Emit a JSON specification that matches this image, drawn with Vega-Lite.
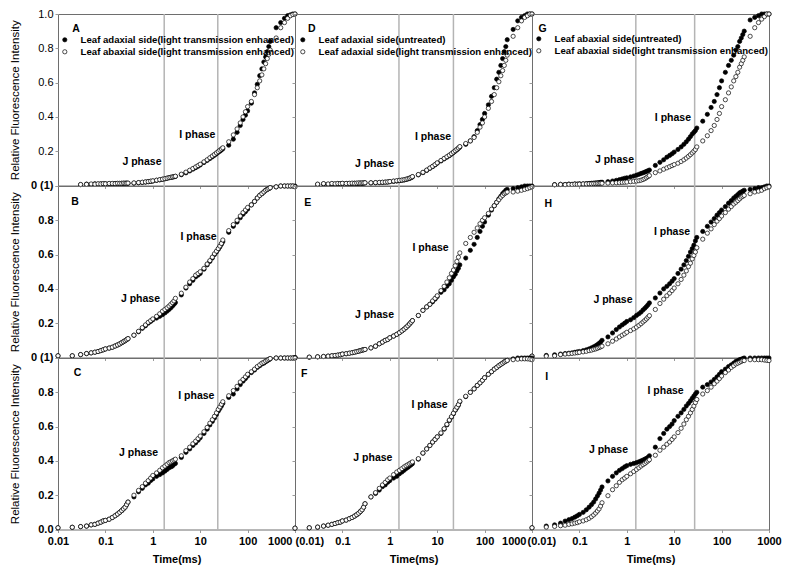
{
"$schema": "https://vega.github.io/schema/vega-lite/v6.json",
"padding": {"left": 8, "top": 7, "right": 5, "bottom": 5},
"config": {
 "font": "Liberation Sans",
 "view": {"stroke": "#6e6e6e", "strokeWidth": 1},
 "axis": {"grid": false, "domain": false, "ticks": true, "tickColor": "#9a9a9a", "tickSize": 3, "tickCount": 12, "labelOverlap": false, "labelColor": "#000", "titleColor": "#000", "labelFont": "Liberation Sans", "titleFont": "Liberation Sans"}
},
"datasets": {
"lines": [{"c":1,"t":1.74},{"c":1,"t":23.5},{"c":2,"t":1.56},{"c":2,"t":22},{"c":3,"t":1.55},{"c":3,"t":27}],
"notes": [
{"p":"A","label":"A","t":0.024,"y":0.915},{"p":"A","label":"J phase","t":0.59,"y":0.136},{"p":"A","label":"I phase","t":8.7,"y":0.293},
{"p":"B","label":"B","t":0.023,"y":0.908},{"p":"B","label":"J phase","t":0.55,"y":0.342},{"p":"B","label":"I phase","t":9.25,"y":0.704},
{"p":"C","label":"C","t":0.026,"y":0.914},{"p":"C","label":"J phase","t":0.5,"y":0.447},{"p":"C","label":"I phase","t":8.3,"y":0.776},
{"p":"D","label":"D","t":0.0226,"y":0.914},{"p":"D","label":"J phase","t":0.475,"y":0.128},{"p":"D","label":"I phase","t":8.15,"y":0.282},
{"p":"E","label":"E","t":0.0186,"y":0.902},{"p":"E","label":"J phase","t":0.475,"y":0.25},{"p":"E","label":"I phase","t":7.26,"y":0.64},
{"p":"F","label":"F","t":0.0157,"y":0.904},{"p":"F","label":"J phase","t":0.44,"y":0.418},{"p":"F","label":"I phase","t":6.9,"y":0.727},
{"p":"G","label":"G","t":0.0168,"y":0.915},{"p":"G","label":"J phase","t":0.55,"y":0.148},{"p":"G","label":"I phase","t":9.4,"y":0.395},
{"p":"H","label":"H","t":0.022,"y":0.896},{"p":"H","label":"J phase","t":0.51,"y":0.334},{"p":"H","label":"I phase","t":8.98,"y":0.73},
{"p":"I","label":"I","t":0.0204,"y":0.888},{"p":"I","label":"J phase","t":0.41,"y":0.466},{"p":"I","label":"I phase","t":6.58,"y":0.81}
],
"curves": [
{"p":"A","t":0.03,"f":0.005,"o":0.006},{"p":"A","t":0.04,"f":0.008,"o":0.007},{"p":"A","t":0.05,"f":0.006,"o":0.009},{"p":"A","t":0.06,"f":0.01,"o":0.008},{"p":"A","t":0.07,"f":0.008,"o":0.01},{"p":"A","t":0.08,"f":0.01,"o":0.009},{"p":"A","t":0.09,"f":0.009,"o":0.011},{"p":"A","t":0.1,"f":0.01,"o":0.01},
{"p":"A","t":0.12,"f":0.011,"o":0.012},{"p":"A","t":0.14,"f":0.01,"o":0.012},{"p":"A","t":0.16,"f":0.012,"o":0.011},{"p":"A","t":0.18,"f":0.011,"o":0.013},{"p":"A","t":0.2,"f":0.012,"o":0.012},{"p":"A","t":0.22,"f":0.013,"o":0.012},{"p":"A","t":0.24,"f":0.012,"o":0.014},{"p":"A","t":0.26,"f":0.013,"o":0.013},{"p":"A","t":0.28,"f":0.014,"o":0.013},{"p":"A","t":0.3,"f":0.013,"o":0.014},
{"p":"A","t":0.4,"f":0.014,"o":0.015},{"p":"A","t":0.5,"f":0.016,"o":0.017},{"p":"A","t":0.6,"f":0.018,"o":0.019},{"p":"A","t":0.7,"f":0.02,"o":0.021},{"p":"A","t":0.8,"f":0.022,"o":0.023},{"p":"A","t":0.9,"f":0.024,"o":0.025},{"p":"A","t":1,"f":0.026,"o":0.027},
{"p":"A","t":1.2,"f":0.03,"o":0.031},{"p":"A","t":1.4,"f":0.033,"o":0.034},{"p":"A","t":1.6,"f":0.036,"o":0.037},{"p":"A","t":1.8,"f":0.039,"o":0.04},{"p":"A","t":2,"f":0.042,"o":0.043},{"p":"A","t":2.2,"f":0.045,"o":0.046},{"p":"A","t":2.4,"f":0.047,"o":0.048},{"p":"A","t":2.6,"f":0.049,"o":0.05},{"p":"A","t":2.8,"f":0.051,"o":0.052},{"p":"A","t":3,"f":0.053,"o":0.054},
{"p":"A","t":4,"f":0.063,"o":0.066},{"p":"A","t":5,"f":0.074,"o":0.078},{"p":"A","t":6,"f":0.085,"o":0.089},{"p":"A","t":7,"f":0.095,"o":0.099},{"p":"A","t":8,"f":0.104,"o":0.108},{"p":"A","t":9,"f":0.112,"o":0.116},{"p":"A","t":10,"f":0.12,"o":0.124},
{"p":"A","t":12,"f":0.134,"o":0.138},{"p":"A","t":14,"f":0.146,"o":0.15},{"p":"A","t":16,"f":0.157,"o":0.162},{"p":"A","t":18,"f":0.167,"o":0.172},{"p":"A","t":20,"f":0.176,"o":0.181},{"p":"A","t":22,"f":0.185,"o":0.19},{"p":"A","t":24,"f":0.193,"o":0.198},{"p":"A","t":26,"f":0.2,"o":0.206},{"p":"A","t":28,"f":0.207,"o":0.213},{"p":"A","t":30,"f":0.214,"o":0.22},
{"p":"A","t":40,"f":0.235,"o":0.255},{"p":"A","t":50,"f":0.27,"o":0.295},{"p":"A","t":60,"f":0.31,"o":0.33},{"p":"A","t":70,"f":0.35,"o":0.365},{"p":"A","t":80,"f":0.385,"o":0.4},{"p":"A","t":90,"f":0.41,"o":0.43},{"p":"A","t":100,"f":0.435,"o":0.46},
{"p":"A","t":120,"f":0.48,"o":0.49},{"p":"A","t":140,"f":0.54,"o":0.53},{"p":"A","t":160,"f":0.59,"o":0.57},{"p":"A","t":180,"f":0.64,"o":0.61},{"p":"A","t":200,"f":0.68,"o":0.645},{"p":"A","t":220,"f":0.72,"o":0.68},{"p":"A","t":240,"f":0.75,"o":0.71},{"p":"A","t":260,"f":0.78,"o":0.74},{"p":"A","t":280,"f":0.81,"o":0.765},{"p":"A","t":300,"f":0.84,"o":0.79},
{"p":"A","t":400,"f":0.92,"o":0.86},{"p":"A","t":500,"f":0.95,"o":0.92},{"p":"A","t":600,"f":0.975,"o":0.95},{"p":"A","t":700,"f":0.99,"o":0.975},{"p":"A","t":800,"f":0.995,"o":0.99},{"p":"A","t":900,"f":1,"o":0.997},{"p":"A","t":1000,"f":1,"o":1},

{"p":"D","t":0.03,"f":0.006,"o":0.008},{"p":"D","t":0.04,"f":0.009,"o":0.011},{"p":"D","t":0.05,"f":0.007,"o":0.009},{"p":"D","t":0.06,"f":0.01,"o":0.012},{"p":"D","t":0.07,"f":0.008,"o":0.01},{"p":"D","t":0.08,"f":0.011,"o":0.012},{"p":"D","t":0.09,"f":0.01,"o":0.011},{"p":"D","t":0.1,"f":0.011,"o":0.013},
{"p":"D","t":0.12,"f":0.012,"o":0.012},{"p":"D","t":0.14,"f":0.011,"o":0.013},{"p":"D","t":0.16,"f":0.012,"o":0.014},{"p":"D","t":0.18,"f":0.013,"o":0.013},{"p":"D","t":0.2,"f":0.012,"o":0.014},{"p":"D","t":0.22,"f":0.013,"o":0.015},{"p":"D","t":0.24,"f":0.014,"o":0.014},{"p":"D","t":0.26,"f":0.013,"o":0.015},{"p":"D","t":0.28,"f":0.014,"o":0.015},{"p":"D","t":0.3,"f":0.015,"o":0.016},
{"p":"D","t":0.4,"f":0.015,"o":0.016},{"p":"D","t":0.5,"f":0.016,"o":0.017},{"p":"D","t":0.6,"f":0.017,"o":0.018},{"p":"D","t":0.7,"f":0.018,"o":0.019},{"p":"D","t":0.8,"f":0.019,"o":0.02},{"p":"D","t":0.9,"f":0.02,"o":0.021},{"p":"D","t":1,"f":0.022,"o":0.023},
{"p":"D","t":1.2,"f":0.024,"o":0.026},{"p":"D","t":1.4,"f":0.026,"o":0.028},{"p":"D","t":1.6,"f":0.028,"o":0.03},{"p":"D","t":1.8,"f":0.03,"o":0.032},{"p":"D","t":2,"f":0.032,"o":0.034},{"p":"D","t":2.2,"f":0.035,"o":0.037},{"p":"D","t":2.4,"f":0.038,"o":0.04},{"p":"D","t":2.6,"f":0.041,"o":0.043},{"p":"D","t":2.8,"f":0.045,"o":0.047},{"p":"D","t":3,"f":0.05,"o":0.052},
{"p":"D","t":4,"f":0.062,"o":0.064},{"p":"D","t":5,"f":0.075,"o":0.077},{"p":"D","t":6,"f":0.088,"o":0.09},{"p":"D","t":7,"f":0.1,"o":0.102},{"p":"D","t":8,"f":0.11,"o":0.112},{"p":"D","t":9,"f":0.12,"o":0.122},{"p":"D","t":10,"f":0.13,"o":0.132},
{"p":"D","t":12,"f":0.143,"o":0.146},{"p":"D","t":14,"f":0.155,"o":0.158},{"p":"D","t":16,"f":0.165,"o":0.168},{"p":"D","t":18,"f":0.174,"o":0.177},{"p":"D","t":20,"f":0.183,"o":0.186},{"p":"D","t":22,"f":0.192,"o":0.195},{"p":"D","t":24,"f":0.2,"o":0.203},{"p":"D","t":26,"f":0.208,"o":0.211},{"p":"D","t":28,"f":0.216,"o":0.219},{"p":"D","t":30,"f":0.224,"o":0.227},
{"p":"D","t":40,"f":0.24,"o":0.245},{"p":"D","t":50,"f":0.26,"o":0.26},{"p":"D","t":60,"f":0.285,"o":0.28},{"p":"D","t":70,"f":0.32,"o":0.31},{"p":"D","t":80,"f":0.355,"o":0.34},{"p":"D","t":90,"f":0.385,"o":0.365},{"p":"D","t":100,"f":0.42,"o":0.4},
{"p":"D","t":120,"f":0.47,"o":0.45},{"p":"D","t":140,"f":0.52,"o":0.49},{"p":"D","t":160,"f":0.57,"o":0.53},{"p":"D","t":180,"f":0.62,"o":0.57},{"p":"D","t":200,"f":0.66,"o":0.605},{"p":"D","t":220,"f":0.7,"o":0.64},{"p":"D","t":240,"f":0.74,"o":0.67},{"p":"D","t":260,"f":0.78,"o":0.7},{"p":"D","t":280,"f":0.81,"o":0.73},{"p":"D","t":300,"f":0.85,"o":0.76},
{"p":"D","t":400,"f":0.91,"o":0.87},{"p":"D","t":500,"f":0.96,"o":0.92},{"p":"D","t":600,"f":0.98,"o":0.96},{"p":"D","t":700,"f":0.99,"o":0.98},{"p":"D","t":800,"f":1,"o":0.99},{"p":"D","t":900,"f":1,"o":1},{"p":"D","t":1000,"f":1,"o":1},

{"p":"G","t":0.03,"f":0.005,"o":0.004},{"p":"G","t":0.04,"f":0.007,"o":0.006},{"p":"G","t":0.05,"f":0.006,"o":0.005},{"p":"G","t":0.06,"f":0.008,"o":0.007},{"p":"G","t":0.07,"f":0.007,"o":0.006},{"p":"G","t":0.08,"f":0.009,"o":0.008},{"p":"G","t":0.09,"f":0.008,"o":0.007},{"p":"G","t":0.1,"f":0.01,"o":0.008},
{"p":"G","t":0.12,"f":0.01,"o":0.009},{"p":"G","t":0.14,"f":0.011,"o":0.009},{"p":"G","t":0.16,"f":0.012,"o":0.01},{"p":"G","t":0.18,"f":0.013,"o":0.01},{"p":"G","t":0.2,"f":0.014,"o":0.011},{"p":"G","t":0.22,"f":0.015,"o":0.011},{"p":"G","t":0.24,"f":0.016,"o":0.012},{"p":"G","t":0.26,"f":0.017,"o":0.012},{"p":"G","t":0.28,"f":0.018,"o":0.013},{"p":"G","t":0.3,"f":0.019,"o":0.013},
{"p":"G","t":0.4,"f":0.022,"o":0.014},{"p":"G","t":0.5,"f":0.026,"o":0.015},{"p":"G","t":0.6,"f":0.03,"o":0.016},{"p":"G","t":0.7,"f":0.034,"o":0.017},{"p":"G","t":0.8,"f":0.038,"o":0.018},{"p":"G","t":0.9,"f":0.042,"o":0.019},{"p":"G","t":1,"f":0.045,"o":0.02},
{"p":"G","t":1.2,"f":0.05,"o":0.022},{"p":"G","t":1.4,"f":0.055,"o":0.024},{"p":"G","t":1.6,"f":0.06,"o":0.026},{"p":"G","t":1.8,"f":0.065,"o":0.028},{"p":"G","t":2,"f":0.07,"o":0.031},{"p":"G","t":2.2,"f":0.074,"o":0.035},{"p":"G","t":2.4,"f":0.078,"o":0.04},{"p":"G","t":2.6,"f":0.082,"o":0.046},{"p":"G","t":2.8,"f":0.086,"o":0.052},{"p":"G","t":3,"f":0.09,"o":0.058},
{"p":"G","t":4,"f":0.117,"o":0.075},{"p":"G","t":5,"f":0.135,"o":0.085},{"p":"G","t":6,"f":0.15,"o":0.095},{"p":"G","t":7,"f":0.165,"o":0.103},{"p":"G","t":8,"f":0.175,"o":0.11},{"p":"G","t":9,"f":0.185,"o":0.116},{"p":"G","t":10,"f":0.195,"o":0.122},
{"p":"G","t":12,"f":0.21,"o":0.13},{"p":"G","t":14,"f":0.225,"o":0.14},{"p":"G","t":16,"f":0.24,"o":0.15},{"p":"G","t":18,"f":0.255,"o":0.16},{"p":"G","t":20,"f":0.27,"o":0.17},{"p":"G","t":22,"f":0.285,"o":0.18},{"p":"G","t":24,"f":0.3,"o":0.19},{"p":"G","t":26,"f":0.31,"o":0.2},{"p":"G","t":28,"f":0.32,"o":0.21},{"p":"G","t":30,"f":0.335,"o":0.225},
{"p":"G","t":40,"f":0.375,"o":0.26},{"p":"G","t":50,"f":0.415,"o":0.29},{"p":"G","t":60,"f":0.455,"o":0.32},{"p":"G","t":70,"f":0.49,"o":0.35},{"p":"G","t":80,"f":0.53,"o":0.385},{"p":"G","t":90,"f":0.57,"o":0.42},{"p":"G","t":100,"f":0.61,"o":0.46},
{"p":"G","t":120,"f":0.66,"o":0.5},{"p":"G","t":140,"f":0.7,"o":0.54},{"p":"G","t":160,"f":0.73,"o":0.575},{"p":"G","t":180,"f":0.76,"o":0.61},{"p":"G","t":200,"f":0.79,"o":0.635},{"p":"G","t":220,"f":0.81,"o":0.66},{"p":"G","t":240,"f":0.84,"o":0.69},{"p":"G","t":260,"f":0.86,"o":0.71},{"p":"G","t":280,"f":0.88,"o":0.73},{"p":"G","t":300,"f":0.9,"o":0.75},
{"p":"G","t":400,"f":0.965,"o":0.87},{"p":"G","t":500,"f":0.98,"o":0.92},{"p":"G","t":600,"f":0.99,"o":0.95},{"p":"G","t":700,"f":1,"o":0.97},{"p":"G","t":800,"f":1,"o":0.985},{"p":"G","t":900,"f":1,"o":1},{"p":"G","t":1000,"f":1,"o":1},

{"p":"B","t":0.01,"f":0.01,"o":0.01},{"p":"B","t":0.02,"f":0.01,"o":0.01},{"p":"B","t":0.03,"f":0.017,"o":0.017},{"p":"B","t":0.04,"f":0.023,"o":0.023},{"p":"B","t":0.05,"f":0.027,"o":0.027},{"p":"B","t":0.06,"f":0.031,"o":0.031},{"p":"B","t":0.07,"f":0.035,"o":0.035},{"p":"B","t":0.08,"f":0.04,"o":0.04},{"p":"B","t":0.09,"f":0.045,"o":0.045},{"p":"B","t":0.1,"f":0.05,"o":0.05},
{"p":"B","t":0.12,"f":0.055,"o":0.055},{"p":"B","t":0.14,"f":0.06,"o":0.06},{"p":"B","t":0.16,"f":0.067,"o":0.067},{"p":"B","t":0.18,"f":0.073,"o":0.073},{"p":"B","t":0.2,"f":0.079,"o":0.079},{"p":"B","t":0.22,"f":0.086,"o":0.086},{"p":"B","t":0.24,"f":0.092,"o":0.092},{"p":"B","t":0.26,"f":0.098,"o":0.098},{"p":"B","t":0.28,"f":0.104,"o":0.104},{"p":"B","t":0.3,"f":0.11,"o":0.11},
{"p":"B","t":0.4,"f":0.13,"o":0.13},{"p":"B","t":0.5,"f":0.15,"o":0.153},{"p":"B","t":0.6,"f":0.17,"o":0.174},{"p":"B","t":0.7,"f":0.185,"o":0.19},{"p":"B","t":0.8,"f":0.2,"o":0.205},{"p":"B","t":0.9,"f":0.21,"o":0.215},{"p":"B","t":1,"f":0.22,"o":0.225},
{"p":"B","t":1.2,"f":0.23,"o":0.24},{"p":"B","t":1.4,"f":0.24,"o":0.255},{"p":"B","t":1.6,"f":0.25,"o":0.27},{"p":"B","t":1.8,"f":0.26,"o":0.28},{"p":"B","t":2,"f":0.27,"o":0.29},{"p":"B","t":2.2,"f":0.28,"o":0.3},{"p":"B","t":2.4,"f":0.29,"o":0.31},{"p":"B","t":2.6,"f":0.3,"o":0.32},{"p":"B","t":2.8,"f":0.31,"o":0.33},{"p":"B","t":3,"f":0.32,"o":0.345},
{"p":"B","t":4,"f":0.365,"o":0.375},{"p":"B","t":5,"f":0.405,"o":0.41},{"p":"B","t":6,"f":0.43,"o":0.44},{"p":"B","t":7,"f":0.45,"o":0.46},{"p":"B","t":8,"f":0.47,"o":0.48},{"p":"B","t":9,"f":0.48,"o":0.49},{"p":"B","t":10,"f":0.49,"o":0.5},
{"p":"B","t":12,"f":0.515,"o":0.52},{"p":"B","t":14,"f":0.54,"o":0.545},{"p":"B","t":16,"f":0.56,"o":0.565},{"p":"B","t":18,"f":0.58,"o":0.585},{"p":"B","t":20,"f":0.6,"o":0.605},{"p":"B","t":22,"f":0.615,"o":0.62},{"p":"B","t":24,"f":0.63,"o":0.635},{"p":"B","t":26,"f":0.645,"o":0.65},{"p":"B","t":28,"f":0.66,"o":0.665},{"p":"B","t":30,"f":0.675,"o":0.685},
{"p":"B","t":40,"f":0.73,"o":0.74},{"p":"B","t":50,"f":0.765,"o":0.775},{"p":"B","t":60,"f":0.79,"o":0.8},{"p":"B","t":70,"f":0.815,"o":0.825},{"p":"B","t":80,"f":0.835,"o":0.845},{"p":"B","t":90,"f":0.85,"o":0.86},{"p":"B","t":100,"f":0.865,"o":0.875},
{"p":"B","t":120,"f":0.89,"o":0.89},{"p":"B","t":140,"f":0.91,"o":0.91},{"p":"B","t":160,"f":0.93,"o":0.93},{"p":"B","t":180,"f":0.945,"o":0.945},{"p":"B","t":200,"f":0.955,"o":0.955},{"p":"B","t":220,"f":0.965,"o":0.965},{"p":"B","t":240,"f":0.975,"o":0.975},{"p":"B","t":260,"f":0.98,"o":0.98},{"p":"B","t":280,"f":0.985,"o":0.985},{"p":"B","t":300,"f":0.99,"o":0.99},
{"p":"B","t":400,"f":0.995,"o":0.995},{"p":"B","t":500,"f":1,"o":1},{"p":"B","t":600,"f":1,"o":1},{"p":"B","t":700,"f":1,"o":1},{"p":"B","t":800,"f":1,"o":1},{"p":"B","t":900,"f":1,"o":1},{"p":"B","t":1000,"f":1,"o":0.995},

{"p":"E","t":0.01,"f":0,"o":0},{"p":"E","t":0.02,"f":0.002,"o":0.002},{"p":"E","t":0.03,"f":0.004,"o":0.004},{"p":"E","t":0.04,"f":0.006,"o":0.006},{"p":"E","t":0.05,"f":0.008,"o":0.008},{"p":"E","t":0.06,"f":0.01,"o":0.01},{"p":"E","t":0.07,"f":0.012,"o":0.012},{"p":"E","t":0.08,"f":0.014,"o":0.014},{"p":"E","t":0.09,"f":0.016,"o":0.016},{"p":"E","t":0.1,"f":0.02,"o":0.02},
{"p":"E","t":0.12,"f":0.022,"o":0.022},{"p":"E","t":0.14,"f":0.025,"o":0.025},{"p":"E","t":0.16,"f":0.028,"o":0.028},{"p":"E","t":0.18,"f":0.031,"o":0.031},{"p":"E","t":0.2,"f":0.034,"o":0.034},{"p":"E","t":0.22,"f":0.037,"o":0.037},{"p":"E","t":0.24,"f":0.04,"o":0.04},{"p":"E","t":0.26,"f":0.043,"o":0.043},{"p":"E","t":0.28,"f":0.045,"o":0.045},{"p":"E","t":0.3,"f":0.047,"o":0.047},
{"p":"E","t":0.4,"f":0.056,"o":0.056},{"p":"E","t":0.5,"f":0.066,"o":0.066},{"p":"E","t":0.6,"f":0.08,"o":0.08},{"p":"E","t":0.7,"f":0.09,"o":0.09},{"p":"E","t":0.8,"f":0.1,"o":0.1},{"p":"E","t":0.9,"f":0.105,"o":0.105},{"p":"E","t":1,"f":0.115,"o":0.115},
{"p":"E","t":1.2,"f":0.125,"o":0.125},{"p":"E","t":1.4,"f":0.135,"o":0.135},{"p":"E","t":1.6,"f":0.145,"o":0.145},{"p":"E","t":1.8,"f":0.155,"o":0.155},{"p":"E","t":2,"f":0.165,"o":0.165},{"p":"E","t":2.2,"f":0.175,"o":0.175},{"p":"E","t":2.4,"f":0.185,"o":0.185},{"p":"E","t":2.6,"f":0.195,"o":0.195},{"p":"E","t":2.8,"f":0.205,"o":0.205},{"p":"E","t":3,"f":0.215,"o":0.215},
{"p":"E","t":4,"f":0.245,"o":0.245},{"p":"E","t":5,"f":0.275,"o":0.275},{"p":"E","t":6,"f":0.295,"o":0.295},{"p":"E","t":7,"f":0.31,"o":0.31},{"p":"E","t":8,"f":0.325,"o":0.33},{"p":"E","t":9,"f":0.34,"o":0.345},{"p":"E","t":10,"f":0.355,"o":0.36},
{"p":"E","t":12,"f":0.38,"o":0.39},{"p":"E","t":14,"f":0.395,"o":0.415},{"p":"E","t":16,"f":0.415,"o":0.44},{"p":"E","t":18,"f":0.43,"o":0.465},{"p":"E","t":20,"f":0.45,"o":0.49},{"p":"E","t":22,"f":0.47,"o":0.51},{"p":"E","t":24,"f":0.485,"o":0.535},{"p":"E","t":26,"f":0.505,"o":0.56},{"p":"E","t":28,"f":0.52,"o":0.585},{"p":"E","t":30,"f":0.54,"o":0.61},
{"p":"E","t":40,"f":0.58,"o":0.665},{"p":"E","t":50,"f":0.625,"o":0.7},{"p":"E","t":60,"f":0.66,"o":0.73},{"p":"E","t":70,"f":0.7,"o":0.755},{"p":"E","t":80,"f":0.735,"o":0.78},{"p":"E","t":90,"f":0.765,"o":0.8},{"p":"E","t":100,"f":0.79,"o":0.815},
{"p":"E","t":120,"f":0.83,"o":0.84},{"p":"E","t":140,"f":0.86,"o":0.865},{"p":"E","t":160,"f":0.885,"o":0.885},{"p":"E","t":180,"f":0.905,"o":0.905},{"p":"E","t":200,"f":0.925,"o":0.92},{"p":"E","t":220,"f":0.94,"o":0.935},{"p":"E","t":240,"f":0.955,"o":0.945},{"p":"E","t":260,"f":0.965,"o":0.955},{"p":"E","t":280,"f":0.975,"o":0.96},{"p":"E","t":300,"f":0.98,"o":0.965},
{"p":"E","t":400,"f":0.985,"o":0.965},{"p":"E","t":500,"f":0.99,"o":0.97},{"p":"E","t":600,"f":0.995,"o":0.975},{"p":"E","t":700,"f":1,"o":0.98},{"p":"E","t":800,"f":1,"o":0.985},{"p":"E","t":900,"f":1,"o":0.99},{"p":"E","t":1000,"f":1,"o":0.995},

{"p":"H","t":0.01,"f":0.008,"o":0.008},{"p":"H","t":0.02,"f":0.012,"o":0.008},{"p":"H","t":0.03,"f":0.016,"o":0.01},{"p":"H","t":0.04,"f":0.02,"o":0.017},{"p":"H","t":0.05,"f":0.023,"o":0.02},{"p":"H","t":0.06,"f":0.025,"o":0.022},{"p":"H","t":0.07,"f":0.027,"o":0.024},{"p":"H","t":0.08,"f":0.03,"o":0.026},{"p":"H","t":0.09,"f":0.033,"o":0.028},{"p":"H","t":0.1,"f":0.035,"o":0.03},
{"p":"H","t":0.12,"f":0.04,"o":0.033},{"p":"H","t":0.14,"f":0.045,"o":0.036},{"p":"H","t":0.16,"f":0.05,"o":0.04},{"p":"H","t":0.18,"f":0.056,"o":0.043},{"p":"H","t":0.2,"f":0.062,"o":0.047},{"p":"H","t":0.22,"f":0.068,"o":0.05},{"p":"H","t":0.24,"f":0.075,"o":0.054},{"p":"H","t":0.26,"f":0.082,"o":0.058},{"p":"H","t":0.28,"f":0.09,"o":0.062},{"p":"H","t":0.3,"f":0.1,"o":0.066},
{"p":"H","t":0.4,"f":0.12,"o":0.08},{"p":"H","t":0.5,"f":0.143,"o":0.095},{"p":"H","t":0.6,"f":0.163,"o":0.108},{"p":"H","t":0.7,"f":0.178,"o":0.12},{"p":"H","t":0.8,"f":0.19,"o":0.13},{"p":"H","t":0.9,"f":0.2,"o":0.138},{"p":"H","t":1,"f":0.21,"o":0.147},
{"p":"H","t":1.2,"f":0.22,"o":0.157},{"p":"H","t":1.4,"f":0.232,"o":0.167},{"p":"H","t":1.6,"f":0.245,"o":0.177},{"p":"H","t":1.8,"f":0.255,"o":0.187},{"p":"H","t":2,"f":0.265,"o":0.197},{"p":"H","t":2.2,"f":0.277,"o":0.207},{"p":"H","t":2.4,"f":0.287,"o":0.216},{"p":"H","t":2.6,"f":0.297,"o":0.225},{"p":"H","t":2.8,"f":0.307,"o":0.235},{"p":"H","t":3,"f":0.318,"o":0.244},
{"p":"H","t":4,"f":0.347,"o":0.28},{"p":"H","t":5,"f":0.376,"o":0.315},{"p":"H","t":6,"f":0.4,"o":0.34},{"p":"H","t":7,"f":0.415,"o":0.36},{"p":"H","t":8,"f":0.43,"o":0.375},{"p":"H","t":9,"f":0.445,"o":0.39},{"p":"H","t":10,"f":0.46,"o":0.405},
{"p":"H","t":12,"f":0.49,"o":0.43},{"p":"H","t":14,"f":0.515,"o":0.455},{"p":"H","t":16,"f":0.54,"o":0.48},{"p":"H","t":18,"f":0.565,"o":0.505},{"p":"H","t":20,"f":0.59,"o":0.53},{"p":"H","t":22,"f":0.615,"o":0.55},{"p":"H","t":24,"f":0.635,"o":0.575},{"p":"H","t":26,"f":0.655,"o":0.595},{"p":"H","t":28,"f":0.68,"o":0.615},{"p":"H","t":30,"f":0.7,"o":0.64},
{"p":"H","t":40,"f":0.735,"o":0.69},{"p":"H","t":50,"f":0.765,"o":0.725},{"p":"H","t":60,"f":0.79,"o":0.75},{"p":"H","t":70,"f":0.81,"o":0.775},{"p":"H","t":80,"f":0.83,"o":0.795},{"p":"H","t":90,"f":0.845,"o":0.81},{"p":"H","t":100,"f":0.86,"o":0.825},
{"p":"H","t":120,"f":0.88,"o":0.845},{"p":"H","t":140,"f":0.9,"o":0.865},{"p":"H","t":160,"f":0.915,"o":0.88},{"p":"H","t":180,"f":0.93,"o":0.895},{"p":"H","t":200,"f":0.94,"o":0.905},{"p":"H","t":220,"f":0.95,"o":0.915},{"p":"H","t":240,"f":0.96,"o":0.925},{"p":"H","t":260,"f":0.965,"o":0.935},{"p":"H","t":280,"f":0.97,"o":0.94},{"p":"H","t":300,"f":0.975,"o":0.945},
{"p":"H","t":400,"f":0.98,"o":0.955},{"p":"H","t":500,"f":0.985,"o":0.965},{"p":"H","t":600,"f":0.99,"o":0.97},{"p":"H","t":700,"f":0.99,"o":0.975},{"p":"H","t":800,"f":0.995,"o":0.985},{"p":"H","t":900,"f":1,"o":0.99},{"p":"H","t":1000,"f":1,"o":0.995},

{"p":"C","t":0.01,"f":0.01,"o":0.01},{"p":"C","t":0.02,"f":0.013,"o":0.013},{"p":"C","t":0.03,"f":0.017,"o":0.017},{"p":"C","t":0.04,"f":0.02,"o":0.02},{"p":"C","t":0.05,"f":0.027,"o":0.027},{"p":"C","t":0.06,"f":0.03,"o":0.03},{"p":"C","t":0.07,"f":0.037,"o":0.037},{"p":"C","t":0.08,"f":0.043,"o":0.043},{"p":"C","t":0.09,"f":0.05,"o":0.05},{"p":"C","t":0.1,"f":0.053,"o":0.053},
{"p":"C","t":0.12,"f":0.06,"o":0.06},{"p":"C","t":0.14,"f":0.07,"o":0.07},{"p":"C","t":0.16,"f":0.08,"o":0.08},{"p":"C","t":0.18,"f":0.09,"o":0.09},{"p":"C","t":0.2,"f":0.1,"o":0.1},{"p":"C","t":0.22,"f":0.11,"o":0.11},{"p":"C","t":0.24,"f":0.12,"o":0.12},{"p":"C","t":0.26,"f":0.13,"o":0.13},{"p":"C","t":0.28,"f":0.145,"o":0.145},{"p":"C","t":0.3,"f":0.16,"o":0.16},
{"p":"C","t":0.4,"f":0.19,"o":0.2},{"p":"C","t":0.5,"f":0.22,"o":0.228},{"p":"C","t":0.6,"f":0.24,"o":0.25},{"p":"C","t":0.7,"f":0.26,"o":0.27},{"p":"C","t":0.8,"f":0.27,"o":0.285},{"p":"C","t":0.9,"f":0.285,"o":0.3},{"p":"C","t":1,"f":0.295,"o":0.315},
{"p":"C","t":1.2,"f":0.31,"o":0.33},{"p":"C","t":1.4,"f":0.32,"o":0.345},{"p":"C","t":1.6,"f":0.33,"o":0.36},{"p":"C","t":1.8,"f":0.34,"o":0.37},{"p":"C","t":2,"f":0.35,"o":0.38},{"p":"C","t":2.2,"f":0.36,"o":0.39},{"p":"C","t":2.4,"f":0.365,"o":0.395},{"p":"C","t":2.6,"f":0.37,"o":0.4},{"p":"C","t":2.8,"f":0.38,"o":0.405},{"p":"C","t":3,"f":0.385,"o":0.41},
{"p":"C","t":4,"f":0.42,"o":0.43},{"p":"C","t":5,"f":0.45,"o":0.46},{"p":"C","t":6,"f":0.47,"o":0.48},{"p":"C","t":7,"f":0.49,"o":0.5},{"p":"C","t":8,"f":0.505,"o":0.515},{"p":"C","t":9,"f":0.52,"o":0.53},{"p":"C","t":10,"f":0.535,"o":0.545},
{"p":"C","t":12,"f":0.56,"o":0.57},{"p":"C","t":14,"f":0.585,"o":0.595},{"p":"C","t":16,"f":0.61,"o":0.62},{"p":"C","t":18,"f":0.63,"o":0.64},{"p":"C","t":20,"f":0.65,"o":0.66},{"p":"C","t":22,"f":0.67,"o":0.68},{"p":"C","t":24,"f":0.69,"o":0.7},{"p":"C","t":26,"f":0.705,"o":0.715},{"p":"C","t":28,"f":0.72,"o":0.73},{"p":"C","t":30,"f":0.735,"o":0.745},
{"p":"C","t":40,"f":0.77,"o":0.78},{"p":"C","t":50,"f":0.79,"o":0.81},{"p":"C","t":60,"f":0.82,"o":0.835},{"p":"C","t":70,"f":0.845,"o":0.86},{"p":"C","t":80,"f":0.865,"o":0.875},{"p":"C","t":90,"f":0.88,"o":0.89},{"p":"C","t":100,"f":0.895,"o":0.905},
{"p":"C","t":120,"f":0.915,"o":0.92},{"p":"C","t":140,"f":0.93,"o":0.935},{"p":"C","t":160,"f":0.945,"o":0.95},{"p":"C","t":180,"f":0.955,"o":0.96},{"p":"C","t":200,"f":0.965,"o":0.97},{"p":"C","t":220,"f":0.97,"o":0.975},{"p":"C","t":240,"f":0.978,"o":0.982},{"p":"C","t":260,"f":0.984,"o":0.988},{"p":"C","t":280,"f":0.99,"o":0.993},{"p":"C","t":300,"f":0.995,"o":0.997},
{"p":"C","t":400,"f":1,"o":1},{"p":"C","t":500,"f":1,"o":1},{"p":"C","t":600,"f":1,"o":1},{"p":"C","t":700,"f":1,"o":1},{"p":"C","t":800,"f":1,"o":1},{"p":"C","t":900,"f":1,"o":1},{"p":"C","t":1000,"f":1,"o":1},

{"p":"F","t":0.01,"f":0.008,"o":0.008},{"p":"F","t":0.02,"f":0.01,"o":0.01},{"p":"F","t":0.03,"f":0.014,"o":0.014},{"p":"F","t":0.04,"f":0.02,"o":0.02},{"p":"F","t":0.05,"f":0.025,"o":0.025},{"p":"F","t":0.06,"f":0.03,"o":0.03},{"p":"F","t":0.07,"f":0.035,"o":0.035},{"p":"F","t":0.08,"f":0.04,"o":0.04},{"p":"F","t":0.09,"f":0.043,"o":0.043},{"p":"F","t":0.1,"f":0.05,"o":0.05},
{"p":"F","t":0.12,"f":0.055,"o":0.055},{"p":"F","t":0.14,"f":0.063,"o":0.063},{"p":"F","t":0.16,"f":0.07,"o":0.07},{"p":"F","t":0.18,"f":0.078,"o":0.078},{"p":"F","t":0.2,"f":0.086,"o":0.086},{"p":"F","t":0.22,"f":0.095,"o":0.095},{"p":"F","t":0.24,"f":0.105,"o":0.105},{"p":"F","t":0.26,"f":0.115,"o":0.115},{"p":"F","t":0.28,"f":0.13,"o":0.13},{"p":"F","t":0.3,"f":0.15,"o":0.15},
{"p":"F","t":0.4,"f":0.19,"o":0.19},{"p":"F","t":0.5,"f":0.21,"o":0.215},{"p":"F","t":0.6,"f":0.23,"o":0.24},{"p":"F","t":0.7,"f":0.25,"o":0.26},{"p":"F","t":0.8,"f":0.26,"o":0.275},{"p":"F","t":0.9,"f":0.275,"o":0.29},{"p":"F","t":1,"f":0.285,"o":0.3},
{"p":"F","t":1.2,"f":0.3,"o":0.32},{"p":"F","t":1.4,"f":0.31,"o":0.335},{"p":"F","t":1.6,"f":0.325,"o":0.345},{"p":"F","t":1.8,"f":0.335,"o":0.355},{"p":"F","t":2,"f":0.345,"o":0.365},{"p":"F","t":2.2,"f":0.355,"o":0.372},{"p":"F","t":2.4,"f":0.362,"o":0.378},{"p":"F","t":2.6,"f":0.37,"o":0.384},{"p":"F","t":2.8,"f":0.377,"o":0.389},{"p":"F","t":3,"f":0.384,"o":0.394},
{"p":"F","t":4,"f":0.41,"o":0.413},{"p":"F","t":5,"f":0.445,"o":0.446},{"p":"F","t":6,"f":0.47,"o":0.47},{"p":"F","t":7,"f":0.49,"o":0.49},{"p":"F","t":8,"f":0.51,"o":0.51},{"p":"F","t":9,"f":0.525,"o":0.525},{"p":"F","t":10,"f":0.54,"o":0.54},
{"p":"F","t":12,"f":0.56,"o":0.563},{"p":"F","t":14,"f":0.585,"o":0.588},{"p":"F","t":16,"f":0.61,"o":0.613},{"p":"F","t":18,"f":0.635,"o":0.638},{"p":"F","t":20,"f":0.655,"o":0.658},{"p":"F","t":22,"f":0.675,"o":0.678},{"p":"F","t":24,"f":0.695,"o":0.698},{"p":"F","t":26,"f":0.71,"o":0.713},{"p":"F","t":28,"f":0.725,"o":0.728},{"p":"F","t":30,"f":0.745,"o":0.748},
{"p":"F","t":40,"f":0.775,"o":0.777},{"p":"F","t":50,"f":0.8,"o":0.8},{"p":"F","t":60,"f":0.82,"o":0.82},{"p":"F","t":70,"f":0.84,"o":0.84},{"p":"F","t":80,"f":0.855,"o":0.855},{"p":"F","t":90,"f":0.87,"o":0.87},{"p":"F","t":100,"f":0.885,"o":0.885},
{"p":"F","t":120,"f":0.905,"o":0.905},{"p":"F","t":140,"f":0.92,"o":0.92},{"p":"F","t":160,"f":0.935,"o":0.935},{"p":"F","t":180,"f":0.945,"o":0.945},{"p":"F","t":200,"f":0.955,"o":0.955},{"p":"F","t":220,"f":0.963,"o":0.963},{"p":"F","t":240,"f":0.97,"o":0.97},{"p":"F","t":260,"f":0.977,"o":0.977},{"p":"F","t":280,"f":0.982,"o":0.982},{"p":"F","t":300,"f":0.986,"o":0.986},
{"p":"F","t":400,"f":0.995,"o":0.99},{"p":"F","t":500,"f":1,"o":0.993},{"p":"F","t":600,"f":1,"o":0.995},{"p":"F","t":700,"f":1,"o":0.995},{"p":"F","t":800,"f":1,"o":0.995},{"p":"F","t":900,"f":1,"o":0.993},{"p":"F","t":1000,"f":1,"o":0.99},

{"p":"I","t":0.01,"f":0.01,"o":0.01},{"p":"I","t":0.02,"f":0.02,"o":0.014},{"p":"I","t":0.03,"f":0.027,"o":0.018},{"p":"I","t":0.04,"f":0.037,"o":0.022},{"p":"I","t":0.05,"f":0.049,"o":0.025},{"p":"I","t":0.06,"f":0.057,"o":0.03},{"p":"I","t":0.07,"f":0.064,"o":0.033},{"p":"I","t":0.08,"f":0.072,"o":0.037},{"p":"I","t":0.09,"f":0.08,"o":0.04},{"p":"I","t":0.1,"f":0.088,"o":0.045},
{"p":"I","t":0.12,"f":0.1,"o":0.05},{"p":"I","t":0.14,"f":0.115,"o":0.057},{"p":"I","t":0.16,"f":0.13,"o":0.065},{"p":"I","t":0.18,"f":0.145,"o":0.075},{"p":"I","t":0.2,"f":0.16,"o":0.085},{"p":"I","t":0.22,"f":0.178,"o":0.096},{"p":"I","t":0.24,"f":0.195,"o":0.108},{"p":"I","t":0.26,"f":0.212,"o":0.12},{"p":"I","t":0.28,"f":0.23,"o":0.137},{"p":"I","t":0.3,"f":0.248,"o":0.156},
{"p":"I","t":0.4,"f":0.283,"o":0.197},{"p":"I","t":0.5,"f":0.31,"o":0.232},{"p":"I","t":0.6,"f":0.33,"o":0.255},{"p":"I","t":0.7,"f":0.345,"o":0.275},{"p":"I","t":0.8,"f":0.355,"o":0.29},{"p":"I","t":0.9,"f":0.365,"o":0.3},{"p":"I","t":1,"f":0.372,"o":0.31},
{"p":"I","t":1.2,"f":0.38,"o":0.325},{"p":"I","t":1.4,"f":0.385,"o":0.338},{"p":"I","t":1.6,"f":0.39,"o":0.35},{"p":"I","t":1.8,"f":0.395,"o":0.36},{"p":"I","t":2,"f":0.4,"o":0.37},{"p":"I","t":2.2,"f":0.405,"o":0.378},{"p":"I","t":2.4,"f":0.41,"o":0.385},{"p":"I","t":2.6,"f":0.415,"o":0.393},{"p":"I","t":2.8,"f":0.42,"o":0.4},{"p":"I","t":3,"f":0.43,"o":0.407},
{"p":"I","t":4,"f":0.48,"o":0.433},{"p":"I","t":5,"f":0.53,"o":0.462},{"p":"I","t":6,"f":0.56,"o":0.48},{"p":"I","t":7,"f":0.585,"o":0.497},{"p":"I","t":8,"f":0.6,"o":0.51},{"p":"I","t":9,"f":0.615,"o":0.525},{"p":"I","t":10,"f":0.635,"o":0.54},
{"p":"I","t":12,"f":0.66,"o":0.565},{"p":"I","t":14,"f":0.68,"o":0.59},{"p":"I","t":16,"f":0.7,"o":0.615},{"p":"I","t":18,"f":0.72,"o":0.64},{"p":"I","t":20,"f":0.735,"o":0.66},{"p":"I","t":22,"f":0.75,"o":0.68},{"p":"I","t":24,"f":0.765,"o":0.7},{"p":"I","t":26,"f":0.778,"o":0.72},{"p":"I","t":28,"f":0.79,"o":0.74},{"p":"I","t":30,"f":0.8,"o":0.758},
{"p":"I","t":40,"f":0.83,"o":0.79},{"p":"I","t":50,"f":0.845,"o":0.81},{"p":"I","t":60,"f":0.86,"o":0.83},{"p":"I","t":70,"f":0.875,"o":0.85},{"p":"I","t":80,"f":0.89,"o":0.865},{"p":"I","t":90,"f":0.905,"o":0.88},{"p":"I","t":100,"f":0.92,"o":0.895},
{"p":"I","t":120,"f":0.935,"o":0.915},{"p":"I","t":140,"f":0.95,"o":0.93},{"p":"I","t":160,"f":0.96,"o":0.945},{"p":"I","t":180,"f":0.97,"o":0.955},{"p":"I","t":200,"f":0.98,"o":0.965},{"p":"I","t":220,"f":0.985,"o":0.97},{"p":"I","t":240,"f":0.99,"o":0.975},{"p":"I","t":260,"f":0.993,"o":0.98},{"p":"I","t":280,"f":0.996,"o":0.985},{"p":"I","t":300,"f":1,"o":0.985},
{"p":"I","t":400,"f":1,"o":0.99},{"p":"I","t":500,"f":1,"o":0.99},{"p":"I","t":600,"f":1,"o":0.99},{"p":"I","t":700,"f":1,"o":0.99},{"p":"I","t":800,"f":1,"o":0.988},{"p":"I","t":900,"f":1,"o":0.986},{"p":"I","t":1000,"f":1,"o":0.985}
]
},
"columns": 3,
"spacing": 0,
"bounds": "flush",
"resolve": {"scale": {"fill": "independent"}, "legend": {"fill": "independent"}},
"concat": [
 {"width": 237, "height": 171.5, "layer": [
  {"data": {"name": "lines"}, "transform": [{"filter": "datum.c == 1"}], "mark": {"type": "rule", "color": "#b4b4b4", "strokeWidth": 1.5}, "encoding": {"x": {"field": "t", "type": "quantitative", "scale": {"type": "log", "domain": [0.01, 1000], "nice": false}, "axis": {"values": [0.01, 0.1, 1, 10, 100, 1000], "tickCount": 12, "labels": false, "title": null}}}},
  {"data": {"name": "curves"}, "transform": [{"filter": "datum.p == 'A'"}, {"fold": ["f", "o"], "as": ["s", "y"]}], "mark": {"type": "point", "shape": "circle", "filled": true, "size": 18, "stroke": "#000", "strokeWidth": 0.7, "opacity": 1}, "encoding": {"x": {"field": "t", "type": "quantitative"}, "y": {"field": "y", "type": "quantitative", "scale": {"domain": [0, 1], "nice": false}, "axis": {"values": [0, 0.2, 0.4, 0.6, 0.8, 1], "tickCount": 12, "labelOverlap": false, "labelExpr": "datum.value == 0 ? '0 (1)' : format(datum.value, '.1f')", "labelFontSize": 11, "labelFontWeight": {"condition": {"test": "datum.value == 0", "value": "bold"}, "value": "normal"}, "labelPadding": 2, "title": "Relative Fluorescence Intensity", "titleFontSize": 11.5, "titleFontWeight": "normal", "titleX": -43, "titleY": 85.75, "titleBaseline": "middle"}}, "fill": {"field": "s", "type": "nominal", "scale": {"domain": ["f", "o"], "range": ["#000000", "#ffffff"]}, "legend": {"orient": "none", "legendX": 2, "legendY": 21, "title": null, "padding": 0, "labelExpr": "datum.value == 'f' ? 'Leaf adaxial side(light transmission enhanced)' : 'Leaf abaxial side(light transmission enhanced)'", "labelFont": "Liberation Sans", "labelFontSize": 9.6, "labelFontWeight": "bold", "labelColor": "#000", "labelLimit": 0, "labelOffset": 11, "rowPadding": 1, "symbolType": "circle", "symbolSize": 18, "symbolStrokeColor": "#000", "symbolStrokeWidth": 0.7}}, "order": {"field": "s", "type": "ordinal"}}},
  {"data": {"name": "notes"}, "transform": [{"filter": "datum.p == 'A'"}], "mark": {"type": "text", "font": "Liberation Sans", "fontSize": 10.5, "fontWeight": "bold", "color": "#000"}, "encoding": {"x": {"field": "t", "type": "quantitative"}, "y": {"field": "y", "type": "quantitative"}, "text": {"field": "label"}}}
 ]},
 {"width": 237, "height": 171.5, "layer": [
  {"data": {"name": "lines"}, "transform": [{"filter": "datum.c == 2"}], "mark": {"type": "rule", "color": "#b4b4b4", "strokeWidth": 1.5}, "encoding": {"x": {"field": "t", "type": "quantitative", "scale": {"type": "log", "domain": [0.01, 1000], "nice": false}, "axis": {"values": [0.01, 0.1, 1, 10, 100, 1000], "tickCount": 12, "labels": false, "title": null}}}},
  {"data": {"name": "curves"}, "transform": [{"filter": "datum.p == 'D'"}, {"fold": ["f", "o"], "as": ["s", "y"]}], "mark": {"type": "point", "shape": "circle", "filled": true, "size": 18, "stroke": "#000", "strokeWidth": 0.7, "opacity": 1}, "encoding": {"x": {"field": "t", "type": "quantitative"}, "y": {"field": "y", "type": "quantitative", "scale": {"domain": [0, 1], "nice": false}, "axis": {"values": [0, 0.2, 0.4, 0.6, 0.8, 1], "tickCount": 12, "labels": false, "title": null}}, "fill": {"field": "s", "type": "nominal", "scale": {"domain": ["f", "o"], "range": ["#000000", "#ffffff"]}, "legend": {"orient": "none", "legendX": 3, "legendY": 21, "title": null, "padding": 0, "labelExpr": "datum.value == 'f' ? 'Leaf adaxial side(untreated)' : 'Leaf adaxial side(light transmission enhanced)'", "labelFont": "Liberation Sans", "labelFontSize": 9.6, "labelFontWeight": "bold", "labelColor": "#000", "labelLimit": 0, "labelOffset": 11, "rowPadding": 1, "symbolType": "circle", "symbolSize": 18, "symbolStrokeColor": "#000", "symbolStrokeWidth": 0.7}}, "order": {"field": "s", "type": "ordinal"}}},
  {"data": {"name": "notes"}, "transform": [{"filter": "datum.p == 'D'"}], "mark": {"type": "text", "font": "Liberation Sans", "fontSize": 10.5, "fontWeight": "bold", "color": "#000"}, "encoding": {"x": {"field": "t", "type": "quantitative"}, "y": {"field": "y", "type": "quantitative"}, "text": {"field": "label"}}}
 ]},
 {"width": 237, "height": 171.5, "layer": [
  {"data": {"name": "lines"}, "transform": [{"filter": "datum.c == 3"}], "mark": {"type": "rule", "color": "#b4b4b4", "strokeWidth": 1.5}, "encoding": {"x": {"field": "t", "type": "quantitative", "scale": {"type": "log", "domain": [0.01, 1000], "nice": false}, "axis": {"values": [0.01, 0.1, 1, 10, 100, 1000], "tickCount": 12, "labels": false, "title": null}}}},
  {"data": {"name": "curves"}, "transform": [{"filter": "datum.p == 'G'"}, {"fold": ["f", "o"], "as": ["s", "y"]}], "mark": {"type": "point", "shape": "circle", "filled": true, "size": 18, "stroke": "#000", "strokeWidth": 0.7, "opacity": 1}, "encoding": {"x": {"field": "t", "type": "quantitative"}, "y": {"field": "y", "type": "quantitative", "scale": {"domain": [0, 1], "nice": false}, "axis": {"values": [0, 0.2, 0.4, 0.6, 0.8, 1], "tickCount": 12, "labels": false, "title": null}}, "fill": {"field": "s", "type": "nominal", "scale": {"domain": ["f", "o"], "range": ["#000000", "#ffffff"]}, "legend": {"orient": "none", "legendX": 2, "legendY": 20, "title": null, "padding": 0, "labelExpr": "datum.value == 'f' ? 'Leaf abaxial side(untreated)' : 'Leaf abaxial side(light transmission enhanced)'", "labelFont": "Liberation Sans", "labelFontSize": 9.6, "labelFontWeight": "bold", "labelColor": "#000", "labelLimit": 0, "labelOffset": 11, "rowPadding": 1, "symbolType": "circle", "symbolSize": 18, "symbolStrokeColor": "#000", "symbolStrokeWidth": 0.7}}, "order": {"field": "s", "type": "ordinal"}}},
  {"data": {"name": "notes"}, "transform": [{"filter": "datum.p == 'G'"}], "mark": {"type": "text", "font": "Liberation Sans", "fontSize": 10.5, "fontWeight": "bold", "color": "#000"}, "encoding": {"x": {"field": "t", "type": "quantitative"}, "y": {"field": "y", "type": "quantitative"}, "text": {"field": "label"}}}
 ]},
 {"width": 237, "height": 171.5, "layer": [
  {"data": {"name": "lines"}, "transform": [{"filter": "datum.c == 1"}], "mark": {"type": "rule", "color": "#b4b4b4", "strokeWidth": 1.5}, "encoding": {"x": {"field": "t", "type": "quantitative", "scale": {"type": "log", "domain": [0.01, 1000], "nice": false}, "axis": {"values": [0.01, 0.1, 1, 10, 100, 1000], "tickCount": 12, "labels": false, "title": null}}}},
  {"data": {"name": "curves"}, "transform": [{"filter": "datum.p == 'B'"}, {"fold": ["f", "o"], "as": ["s", "y"]}], "mark": {"type": "point", "shape": "circle", "filled": true, "size": 18, "stroke": "#000", "strokeWidth": 0.7, "opacity": 1}, "encoding": {"x": {"field": "t", "type": "quantitative"}, "y": {"field": "y", "type": "quantitative", "scale": {"domain": [0, 1], "nice": false}, "axis": {"values": [0, 0.2, 0.4, 0.6, 0.8, 1], "tickCount": 12, "labelOverlap": false, "labelExpr": "datum.value >= 1 ? '' : datum.value == 0 ? '0 (1)' : format(datum.value, '.1f')", "labelFontSize": 11, "labelFontWeight": "bold", "labelPadding": 2, "title": "Relative Fluorescence Intensity", "titleFontSize": 11.5, "titleFontWeight": "normal", "titleX": -43, "titleY": 85.75, "titleBaseline": "middle"}}, "fill": {"field": "s", "type": "nominal", "scale": {"domain": ["f", "o"], "range": ["#000000", "#ffffff"]}, "legend": null}, "order": {"field": "s", "type": "ordinal"}}},
  {"data": {"name": "notes"}, "transform": [{"filter": "datum.p == 'B'"}], "mark": {"type": "text", "font": "Liberation Sans", "fontSize": 10.5, "fontWeight": "bold", "color": "#000"}, "encoding": {"x": {"field": "t", "type": "quantitative"}, "y": {"field": "y", "type": "quantitative"}, "text": {"field": "label"}}}
 ]},
 {"width": 237, "height": 171.5, "layer": [
  {"data": {"name": "lines"}, "transform": [{"filter": "datum.c == 2"}], "mark": {"type": "rule", "color": "#b4b4b4", "strokeWidth": 1.5}, "encoding": {"x": {"field": "t", "type": "quantitative", "scale": {"type": "log", "domain": [0.01, 1000], "nice": false}, "axis": {"values": [0.01, 0.1, 1, 10, 100, 1000], "tickCount": 12, "labels": false, "title": null}}}},
  {"data": {"name": "curves"}, "transform": [{"filter": "datum.p == 'E'"}, {"fold": ["f", "o"], "as": ["s", "y"]}], "mark": {"type": "point", "shape": "circle", "filled": true, "size": 18, "stroke": "#000", "strokeWidth": 0.7, "opacity": 1}, "encoding": {"x": {"field": "t", "type": "quantitative"}, "y": {"field": "y", "type": "quantitative", "scale": {"domain": [0, 1], "nice": false}, "axis": {"values": [0, 0.2, 0.4, 0.6, 0.8, 1], "tickCount": 12, "labels": false, "title": null}}, "fill": {"field": "s", "type": "nominal", "scale": {"domain": ["f", "o"], "range": ["#000000", "#ffffff"]}, "legend": null}, "order": {"field": "s", "type": "ordinal"}}},
  {"data": {"name": "notes"}, "transform": [{"filter": "datum.p == 'E'"}], "mark": {"type": "text", "font": "Liberation Sans", "fontSize": 10.5, "fontWeight": "bold", "color": "#000"}, "encoding": {"x": {"field": "t", "type": "quantitative"}, "y": {"field": "y", "type": "quantitative"}, "text": {"field": "label"}}}
 ]},
 {"width": 237, "height": 171.5, "layer": [
  {"data": {"name": "lines"}, "transform": [{"filter": "datum.c == 3"}], "mark": {"type": "rule", "color": "#b4b4b4", "strokeWidth": 1.5}, "encoding": {"x": {"field": "t", "type": "quantitative", "scale": {"type": "log", "domain": [0.01, 1000], "nice": false}, "axis": {"values": [0.01, 0.1, 1, 10, 100, 1000], "tickCount": 12, "labels": false, "title": null}}}},
  {"data": {"name": "curves"}, "transform": [{"filter": "datum.p == 'H'"}, {"fold": ["f", "o"], "as": ["s", "y"]}], "mark": {"type": "point", "shape": "circle", "filled": true, "size": 18, "stroke": "#000", "strokeWidth": 0.7, "opacity": 1}, "encoding": {"x": {"field": "t", "type": "quantitative"}, "y": {"field": "y", "type": "quantitative", "scale": {"domain": [0, 1], "nice": false}, "axis": {"values": [0, 0.2, 0.4, 0.6, 0.8, 1], "tickCount": 12, "labels": false, "title": null}}, "fill": {"field": "s", "type": "nominal", "scale": {"domain": ["f", "o"], "range": ["#000000", "#ffffff"]}, "legend": null}, "order": {"field": "s", "type": "ordinal"}}},
  {"data": {"name": "notes"}, "transform": [{"filter": "datum.p == 'H'"}], "mark": {"type": "text", "font": "Liberation Sans", "fontSize": 10.5, "fontWeight": "bold", "color": "#000"}, "encoding": {"x": {"field": "t", "type": "quantitative"}, "y": {"field": "y", "type": "quantitative"}, "text": {"field": "label"}}}
 ]},
 {"width": 237, "height": 171.5, "layer": [
  {"data": {"name": "lines"}, "transform": [{"filter": "datum.c == 1"}], "mark": {"type": "rule", "color": "#b4b4b4", "strokeWidth": 1.5}, "encoding": {"x": {"field": "t", "type": "quantitative", "scale": {"type": "log", "domain": [0.01, 1000], "nice": false}, "axis": {"values": [0.01, 0.1, 1, 10, 100, 1000], "tickCount": 12, "format": "~r", "labelFontSize": 11, "labelFontWeight": "bold", "labelPadding": 3, "labelAlign": {"condition": {"test": "datum.value >= 1000", "value": "right"}, "value": "center"}, "labelOffset": {"condition": {"test": "datum.value >= 1000", "value": -3}, "value": 0}, "title": "Time(ms)", "titleFontSize": 11, "titleFontWeight": "bold", "titlePadding": 7}}}},
  {"data": {"name": "curves"}, "transform": [{"filter": "datum.p == 'C'"}, {"fold": ["f", "o"], "as": ["s", "y"]}], "mark": {"type": "point", "shape": "circle", "filled": true, "size": 18, "stroke": "#000", "strokeWidth": 0.7, "opacity": 1}, "encoding": {"x": {"field": "t", "type": "quantitative"}, "y": {"field": "y", "type": "quantitative", "scale": {"domain": [0, 1], "nice": false}, "axis": {"values": [0, 0.2, 0.4, 0.6, 0.8, 1], "tickCount": 12, "labelOverlap": false, "labelExpr": "datum.value >= 1 ? '' : format(datum.value, '.1f')", "labelFontSize": 11, "labelFontWeight": "bold", "labelPadding": 2, "title": "Relative Fluorescence Intensity", "titleFontSize": 11.5, "titleFontWeight": "normal", "titleX": -43, "titleY": 85.75, "titleBaseline": "middle"}}, "fill": {"field": "s", "type": "nominal", "scale": {"domain": ["f", "o"], "range": ["#000000", "#ffffff"]}, "legend": null}, "order": {"field": "s", "type": "ordinal"}}},
  {"data": {"name": "notes"}, "transform": [{"filter": "datum.p == 'C'"}], "mark": {"type": "text", "font": "Liberation Sans", "fontSize": 10.5, "fontWeight": "bold", "color": "#000"}, "encoding": {"x": {"field": "t", "type": "quantitative"}, "y": {"field": "y", "type": "quantitative"}, "text": {"field": "label"}}}
 ]},
 {"width": 237, "height": 171.5, "layer": [
  {"data": {"name": "lines"}, "transform": [{"filter": "datum.c == 2"}], "mark": {"type": "rule", "color": "#b4b4b4", "strokeWidth": 1.5}, "encoding": {"x": {"field": "t", "type": "quantitative", "scale": {"type": "log", "domain": [0.01, 1000], "nice": false}, "axis": {"values": [0.01, 0.1, 1, 10, 100, 1000], "tickCount": 12, "labelExpr": "datum.value <= 0.01 ? '(0.01)' : format(datum.value, '~r')", "labelFontSize": 11, "labelFontWeight": "bold", "labelPadding": 3, "labelFlush": true, "labelOffset": {"condition": {"test": "datum.value >= 1000", "value": -6}, "value": 0}, "title": "Time(ms)", "titleFontSize": 11, "titleFontWeight": "bold", "titlePadding": 7}}}},
  {"data": {"name": "curves"}, "transform": [{"filter": "datum.p == 'F'"}, {"fold": ["f", "o"], "as": ["s", "y"]}], "mark": {"type": "point", "shape": "circle", "filled": true, "size": 18, "stroke": "#000", "strokeWidth": 0.7, "opacity": 1}, "encoding": {"x": {"field": "t", "type": "quantitative"}, "y": {"field": "y", "type": "quantitative", "scale": {"domain": [0, 1], "nice": false}, "axis": {"values": [0, 0.2, 0.4, 0.6, 0.8, 1], "tickCount": 12, "labels": false, "title": null}}, "fill": {"field": "s", "type": "nominal", "scale": {"domain": ["f", "o"], "range": ["#000000", "#ffffff"]}, "legend": null}, "order": {"field": "s", "type": "ordinal"}}},
  {"data": {"name": "notes"}, "transform": [{"filter": "datum.p == 'F'"}], "mark": {"type": "text", "font": "Liberation Sans", "fontSize": 10.5, "fontWeight": "bold", "color": "#000"}, "encoding": {"x": {"field": "t", "type": "quantitative"}, "y": {"field": "y", "type": "quantitative"}, "text": {"field": "label"}}}
 ]},
 {"width": 237, "height": 171.5, "layer": [
  {"data": {"name": "lines"}, "transform": [{"filter": "datum.c == 3"}], "mark": {"type": "rule", "color": "#b4b4b4", "strokeWidth": 1.5}, "encoding": {"x": {"field": "t", "type": "quantitative", "scale": {"type": "log", "domain": [0.01, 1000], "nice": false}, "axis": {"values": [0.01, 0.1, 1, 10, 100, 1000], "tickCount": 12, "labelExpr": "datum.value <= 0.01 ? '(0.01)' : format(datum.value, '~r')", "labelFontSize": 11, "labelFontWeight": "bold", "labelPadding": 3, "labelAlign": {"condition": {"test": "datum.value <= 0.01", "value": "left"}, "value": "center"}, "labelOffset": {"condition": {"test": "datum.value <= 0.01", "value": -5}, "value": 0}, "title": "Time(ms)", "titleFontSize": 11, "titleFontWeight": "bold", "titlePadding": 7}}}},
  {"data": {"name": "curves"}, "transform": [{"filter": "datum.p == 'I'"}, {"fold": ["f", "o"], "as": ["s", "y"]}], "mark": {"type": "point", "shape": "circle", "filled": true, "size": 18, "stroke": "#000", "strokeWidth": 0.7, "opacity": 1}, "encoding": {"x": {"field": "t", "type": "quantitative"}, "y": {"field": "y", "type": "quantitative", "scale": {"domain": [0, 1], "nice": false}, "axis": {"values": [0, 0.2, 0.4, 0.6, 0.8, 1], "tickCount": 12, "labels": false, "title": null}}, "fill": {"field": "s", "type": "nominal", "scale": {"domain": ["f", "o"], "range": ["#000000", "#ffffff"]}, "legend": null}, "order": {"field": "s", "type": "ordinal"}}},
  {"data": {"name": "notes"}, "transform": [{"filter": "datum.p == 'I'"}], "mark": {"type": "text", "font": "Liberation Sans", "fontSize": 10.5, "fontWeight": "bold", "color": "#000"}, "encoding": {"x": {"field": "t", "type": "quantitative"}, "y": {"field": "y", "type": "quantitative"}, "text": {"field": "label"}}}
 ]}
]
}
